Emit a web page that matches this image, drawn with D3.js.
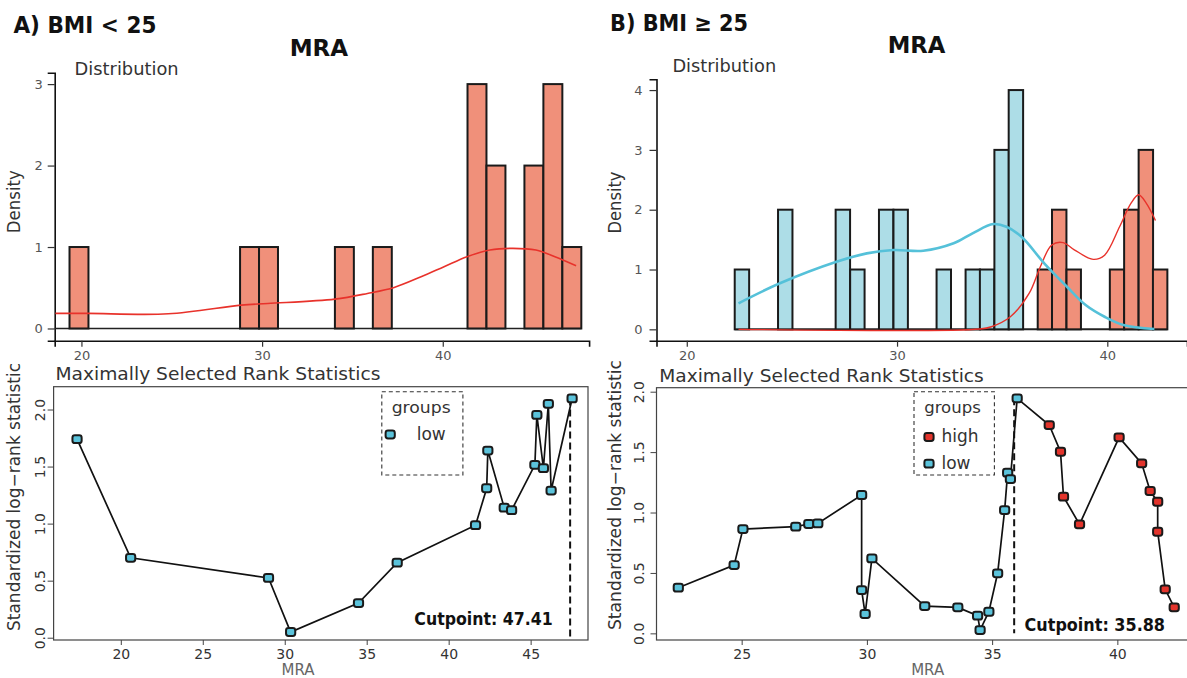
<!DOCTYPE html>
<html>
<head>
<meta charset="utf-8">
<script src="https://cdn.jsdelivr.net/npm/d3@7/dist/d3.min.js"></script>
<style>
  body { margin: 0; background: #fff; }
  text { font-family: "DejaVu Sans", sans-serif; }
</style>
</head>
<body>
<svg id="chart" width="1187" height="678"></svg>
<script>
// ---------- data ----------
// A) BMI < 25 : histogram (bin left edge, count)
const binStartA = [19.34, 28.78, 29.83, 34.03, 36.13, 41.37, 42.42, 44.52, 45.57, 46.62];
const binCountA = [1, 1, 1, 1, 1, 3, 2, 2, 3, 1];
const binWidthA = 1.049;
// density curve A
const densXA = [18.56, 20.36, 24.81, 28.84, 30.32, 34.03, 35.83, 37.31, 38.8, 40.07, 41.34, 42.61, 43.88, 45.16, 46.21, 47.38];
const densYA = [0.185, 0.185, 0.18, 0.287, 0.307, 0.36, 0.43, 0.504, 0.635, 0.758, 0.881, 0.963, 0.984, 0.963, 0.881, 0.77];

// B) BMI >= 25 : histogram, low and high groups
const binStartBLow = [22.28, 24.34, 27.08, 27.77, 29.14, 29.83, 31.88, 33.26, 33.94, 34.63, 35.31];
const binCountBLow = [1, 2, 2, 1, 2, 2, 1, 1, 1, 3, 4];
const binStartBHigh = [36.69, 37.37, 38.06, 40.12, 40.80, 41.49, 42.17];
const binCountBHigh = [1, 2, 1, 1, 2, 3, 1];
const binWidthB = 0.686;
const densXBLow = [22.46, 24.43, 27.12, 28.56, 29.82, 31.25, 32.69, 33.59, 34.58, 35.2, 35.92, 37.0, 38.08, 38.97, 39.87, 40.77, 42.24];
const densYBLow = [0.435, 0.77, 1.13, 1.27, 1.326, 1.314, 1.438, 1.605, 1.76, 1.716, 1.548, 1.104, 0.712, 0.406, 0.21, 0.072, 0.005];
const densXBHigh = [22.46, 33.95, 34.49, 35.39, 36.28, 36.82, 37.36, 37.9, 38.43, 39.33, 39.87, 40.59, 41.13, 41.49, 41.85, 42.29];
const densYBHigh = [0, 0.005, 0.043, 0.21, 0.6, 1.05, 1.41, 1.45, 1.33, 1.17, 1.24, 1.72, 2.11, 2.25, 2.11, 1.82];

// maximally selected rank statistics
const statXA = [17.33, 20.6, 29.01, 30.36, 34.5, 36.86, 41.64, 42.32, 42.39, 43.39, 43.84, 45.26, 45.38, 45.78, 46.08, 46.25, 47.53];
const statYA = [1.74, 0.70, 0.524, 0.05, 0.304, 0.658, 0.986, 1.31, 1.64, 1.14, 1.118, 1.515, 1.953, 1.486, 2.05, 1.29, 2.097];
const statGroupA = statXA.map(() => "low");
const cutA = 47.41;

const statXB = [22.47, 24.70, 25.05, 27.16, 27.68, 28.04, 29.79, 29.79, 29.93, 30.2, 32.31, 33.63, 34.42, 34.52, 34.87, 35.22, 35.5, 35.62, 35.73, 36.0,
                37.28, 37.73, 37.85, 38.49, 40.07, 40.97, 41.31, 41.61, 41.61, 41.91, 42.27];
const statYB = [0.378, 0.565, 0.863, 0.883, 0.905, 0.91, 1.145, 0.358, 0.16, 0.62, 0.226, 0.215, 0.146, 0.027, 0.179, 0.497, 1.02, 1.33, 1.277, 1.945,
                1.724, 1.503, 1.131, 0.902, 1.622, 1.407, 1.178, 1.089, 0.841, 0.364, 0.215];
const statGroupB = statXB.map((d, i) => i < 20 ? "low" : "high");
const cutB = 35.88;

const xTicksHist = [20, 30, 40];
const yTicksHistA = [0, 1, 2, 3];
const yTicksHistB = [0, 1, 2, 3, 4];
const xTicksStatA = [20, 25, 30, 35, 40, 45];
const xTicksStatB = [25, 30, 35, 40];
const yTicksStat = [0, 0.5, 1, 1.5, 2];

// ---------- style ----------
const salmon = "#F0907A", lightBlue = "#ADDDE7";
const redLine = "#E8322B", blueLine = "#55C1D9";
const markFill = { low: "#5BC3DB", high: "#E3342C" };
const tickGrey = "#555", labGrey = "#333";

const svg = d3.select("#chart");

function txt(g, x, y, s, o = {}) {
  const t = g.append("text").attr("x", x).attr("y", y).text(s)
    .attr("font-size", o.size || 16)
    .attr("fill", o.fill || labGrey)
    .attr("font-weight", o.bold ? "bold" : "normal")
    .attr("text-anchor", o.anchor || "start");
  if (o.w) t.attr("textLength", o.w).attr("lengthAdjust", "spacingAndGlyphs");
  if (o.rot) t.attr("transform", `rotate(-90, ${x}, ${y})`);
  return t;
}

function drawBars(g, xs, ys, starts, counts, bw, fill) {
  g.append("g").selectAll("rect").data(starts).join("rect")
    .attr("x", d => xs(d))
    .attr("width", d => xs(d + bw) - xs(d))
    .attr("y", (d, i) => ys(counts[i]))
    .attr("height", (d, i) => ys(0) - ys(counts[i]))
    .attr("fill", fill)
    .attr("stroke", "#1a1a1a")
    .attr("stroke-width", 2);
}

function drawDensity(g, xs, ys, dx, dy, color, w) {
  const line = d3.line().x(d => xs(d[0])).y(d => ys(d[1])).curve(d3.curveCatmullRom);
  g.append("path").datum(dx.map((d, i) => [d, dy[i]]))
    .attr("d", line).attr("fill", "none")
    .attr("stroke", color).attr("stroke-width", w);
}

function ggAxes(g, xs, ys, xt, yt, yGap) {
  const ax = g.append("g").attr("transform", `translate(0,${ys.range()[0]})`)
    .call(d3.axisBottom(xs).tickValues(xt).tickSizeOuter(0).tickSize(6).tickPadding(4));
  const ay = g.append("g").attr("transform", `translate(${xs.range()[0]},0)`)
    .call(d3.axisLeft(ys).tickValues(yt).tickFormat(d3.format("d")).tickSizeOuter(0).tickSize(7).tickPadding(yGap));
  [ax, ay].forEach(a => {
    a.select(".domain").attr("stroke", "#111").attr("stroke-width", 1.6);
    a.selectAll(".tick line").attr("stroke", "#333").attr("stroke-width", 1.2);
    a.selectAll(".tick text").attr("fill", tickGrey).attr("font-size", 13)
      .attr("font-family", "DejaVu Sans");
  });
  ax.selectAll(".tick text").attr("dy", "0.72em");
}

function histPanel(xs, ys, yt, yGap) {
  const g = svg.append("g");
  ggAxes(g, xs, ys, xTicksHist, yt, yGap);
  return g;
}

// ---------- A top ----------
const xA = d3.scaleLinear().domain([18.52, 48.1]).range([54.7, 589.1]);
const yA = d3.scaleLinear().domain([-0.15, 3.14]).range([340.7, 72.7]);
const gA = histPanel(xA, yA, yTicksHistA, 5);
gA.append("line")
  .attr("x1", xA.range()[0]).attr("x2", xA(binStartA[binStartA.length - 1] + binWidthA))
  .attr("y1", yA(0)).attr("y2", yA(0))
  .attr("stroke", "#222").attr("stroke-width", 1.6);
drawBars(gA, xA, yA, binStartA, binCountA, binWidthA, salmon);
drawDensity(gA, xA, yA, densXA, densYA, redLine, 1.6);

// ---------- B top ----------
const xB = d3.scaleLinear().domain([18.56, 43.79]).range([656.5, 1187]);
const yB = d3.scaleLinear().domain([-0.19, 4.18]).range([340.7, 79.3]);
const gB = histPanel(xB, yB, yTicksHistB, 7);
gB.append("line")
  .attr("x1", xB(binStartBLow[0])).attr("x2", xB(binStartBHigh[binStartBHigh.length - 1] + binWidthB))
  .attr("y1", yB(0)).attr("y2", yB(0))
  .attr("stroke", "#222").attr("stroke-width", 2);
drawBars(gB, xB, yB, binStartBLow, binCountBLow, binWidthB, lightBlue);
drawBars(gB, xB, yB, binStartBHigh, binCountBHigh, binWidthB, salmon);
drawDensity(gB, xB, yB, densXBHigh, densYBHigh, redLine, 1.4);
drawDensity(gB, xB, yB, densXBLow, densYBLow, blueLine, 2.6);

// ---------- bottom panels (base R look) ----------
function marker(g, cx, cy, grp) {
  g.append("rect")
    .attr("x", cx - 4.6).attr("y", cy - 3.9).attr("width", 9.2).attr("height", 7.8).attr("rx", 2.4)
    .attr("fill", markFill[grp]).attr("stroke", "#1a1a1a").attr("stroke-width", 2);
}

function statPanel(xs, ys, sx, sy, grp, cut, xt, yLabOff) {
  const g = svg.append("g");
  const [x0, x1] = xs.range(), [y0, y1] = ys.range();
  g.append("rect").attr("x", x0).attr("y", y1).attr("width", x1 - x0).attr("height", y0 - y1)
    .attr("fill", "none").attr("stroke", "#444").attr("stroke-width", 1.2);

  const ax = g.append("g").attr("transform", `translate(0,${y0})`)
    .call(d3.axisBottom(xs).tickValues(xt).tickSize(5).tickPadding(5));
  const ay = g.append("g").attr("transform", `translate(${x0},0)`)
    .call(d3.axisLeft(ys).tickValues(yTicksStat).tickSize(6).tickFormat(d3.format(".1f")));
  [ax, ay].forEach(a => {
    a.select(".domain").remove();
    a.selectAll(".tick line").attr("stroke", "#444");
    a.selectAll(".tick text").attr("fill", labGrey).attr("font-size", 14)
      .attr("font-family", "DejaVu Sans");
  });
  ax.selectAll(".tick text").attr("dy", "0.66em");
  ay.selectAll(".tick text")
    .attr("x", 0).attr("y", -yLabOff).attr("dy", 0)
    .attr("text-anchor", "middle").attr("transform", "rotate(-90)");

  // dashed cutpoint line
  g.append("line")
    .attr("x1", xs(cut)).attr("x2", xs(cut))
    .attr("y1", ys(d3.max(sy))).attr("y2", ys(0))
    .attr("stroke", "#111").attr("stroke-width", 2).attr("stroke-dasharray", "7,4");

  const pts = sx.map((d, i) => [d, sy[i], grp[i]]);
  g.append("path").datum(pts)
    .attr("d", d3.line().x(d => xs(d[0])).y(d => ys(d[1])))
    .attr("fill", "none").attr("stroke", "#111").attr("stroke-width", 1.7);
  pts.forEach(p => marker(g, xs(p[0]), ys(p[1]), p[2]));
  return g;
}

const xA2 = d3.scaleLinear().domain([15.9, 48.5]).range([53.6, 588]);
const yA2 = d3.scaleLinear().domain([-0.02, 2.2]).range([640, 386.7]);
const gA2 = statPanel(xA2, yA2, statXA, statYA, statGroupA, cutA, xTicksStatA, 9);

const xB2 = d3.scaleLinear().domain([21.6, 43.06]).range([656.5, 1194]);
const yB2 = d3.scaleLinear().domain([-0.055, 2.033]).range([640, 387.7]);
const gB2 = statPanel(xB2, yB2, statXB, statYB, statGroupB, cutB, xTicksStatB, 13);

// legends
function legend(g, x, y, w, h, groups, mx, tx, ty0, tstep, groupsX, groupsW) {
  g.append("rect").attr("x", x).attr("y", y).attr("width", w).attr("height", h)
    .attr("fill", "#fff").attr("stroke", "#333").attr("stroke-width", 1.1).attr("stroke-dasharray", "4,3");
  txt(g, groupsX, y + 21, "groups", { size: 16, w: groupsW });
  groups.forEach((k, i) => {
    marker(g, mx, ty0 + i * tstep - 5, k);
    txt(g, tx, ty0 + i * tstep, k, { size: 17 });
  });
}
legend(gA2, 381.8, 391.7, 81.1, 83.3, ["low"], 390.2, 416.7, 439.5, 27, 391.7, 59);
legend(gB2, 914, 391.7, 80.4, 83.3, ["high", "low"], 929, 941.5, 442, 26.7, 924.2, 56.6);

// ---------- text ----------
txt(svg, 13.4, 33, "A) BMI < 25", { size: 23, bold: true, fill: "#111", w: 143 });
txt(svg, 610, 30.5, "B) BMI \u2265 25", { size: 23, bold: true, fill: "#111", w: 138 });
txt(svg, 318.9, 55.5, "MRA", { size: 23, bold: true, fill: "#111", anchor: "middle", w: 58.5 });
txt(svg, 916.5, 53, "MRA", { size: 23, bold: true, fill: "#111", anchor: "middle", w: 57.7 });
txt(svg, 74.6, 75, "Distribution", { size: 18, w: 104 });
txt(svg, 672.4, 71.7, "Distribution", { size: 18, w: 103.8 });
txt(svg, 19.8, 201.7, "Density", { size: 17, rot: true, anchor: "middle", w: 63 });
txt(svg, 621, 202.5, "Density", { size: 17, rot: true, anchor: "middle", w: 62 });

txt(svg, 55.5, 379.8, "Maximally Selected Rank Statistics", { size: 17, w: 325 });
txt(svg, 659.2, 381.7, "Maximally Selected Rank Statistics", { size: 17, w: 324.6 });
txt(svg, 19.8, 497, "Standardized log\u2212rank statistic", { size: 17, rot: true, anchor: "middle", w: 268 });
txt(svg, 621, 495, "Standardized log\u2212rank statistic", { size: 17, rot: true, anchor: "middle", w: 270 });
txt(svg, 298, 675, "MRA", { size: 15, anchor: "middle", fill: "#666", w: 33 });
txt(svg, 927.7, 674.5, "MRA", { size: 15, anchor: "middle", fill: "#666", w: 33 });
txt(svg, 414.3, 624.5, "Cutpoint: " + cutA.toFixed(2), { size: 18, bold: true, fill: "#111", w: 138.5 });
txt(svg, 1024.6, 630.5, "Cutpoint: " + cutB.toFixed(2), { size: 18, bold: true, fill: "#111", w: 140.4 });
</script>
</body>
</html>
